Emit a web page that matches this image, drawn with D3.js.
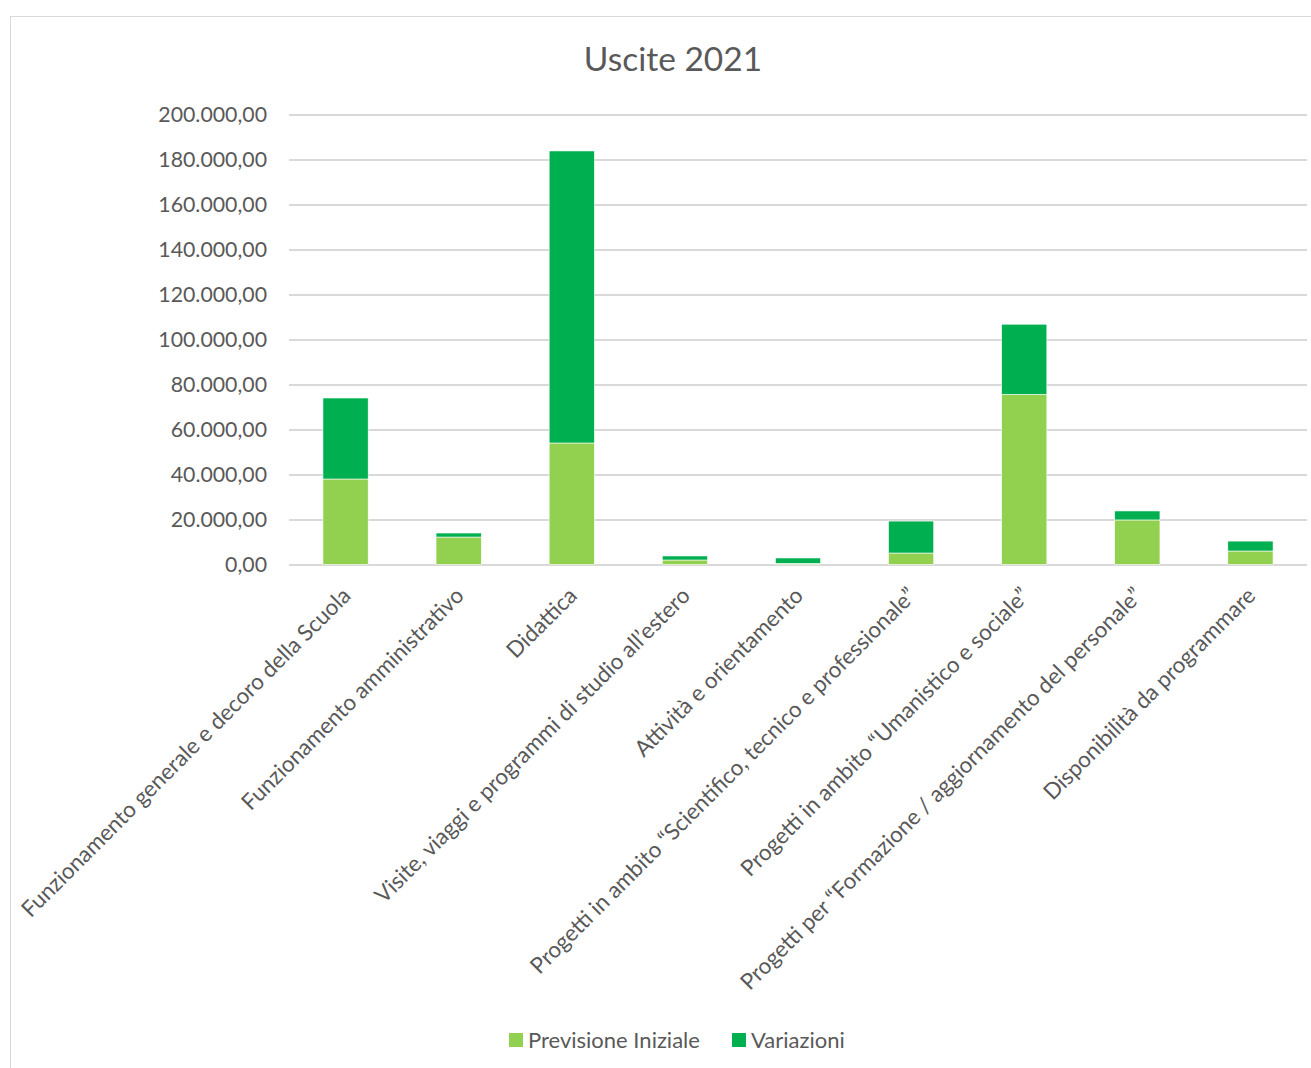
<!DOCTYPE html>
<html>
<head>
<meta charset="utf-8">
<script src="https://cdn.jsdelivr.net/npm/d3@7"></script>
<style>
  body { margin: 0; background: #fff; }
  text { font-family: Lato, "Open Sans", sans-serif; fill: #595959; }
</style>
</head>
<body>
<svg width="1311" height="1068"></svg>
<script>
const categories = [
  "Funzionamento generale e decoro della Scuola",
  "Funzionamento amministrativo",
  "Didattica",
  "Visite, viaggi e programmi di studio all\u2019estero",
  "Attività e orientamento",
  "Progetti in ambito \u201cScientifico, tecnico e professionale\u201d",
  "Progetti in ambito \u201cUmanistico e sociale\u201d",
  "Progetti per \u201cFormazione / aggiornamento del personale\u201d",
  "Disponibilità da programmare"
];
const previsioneIniziale = [38000, 12200, 54000, 2000, 500, 5100, 75600, 19800, 6000];
const variazioni = [36000, 1800, 129800, 1800, 2400, 14200, 31200, 4000, 4400];
const seriesNames = ["Previsione Iniziale", "Variazioni"];
const seriesColors = ["#92d050", "#00b050"];
const yTicks = [0, 20000, 40000, 60000, 80000, 100000, 120000, 140000, 160000, 180000, 200000];

const svg = d3.select("svg");

// chart frame
svg.append("rect")
  .attr("x", 10.5).attr("y", 16.5)
  .attr("width", 1320).attr("height", 1080)
  .attr("fill", "none").attr("stroke", "#d9d9d9");

const plotLeft = 289, plotRight = 1307, plotTop = 114.5, plotBottom = 564.5;

const x = d3.scaleBand().domain(categories).range([plotLeft, plotRight]).paddingInner(0.6).paddingOuter(0.3);
const y = d3.scaleLinear().domain([0, 200000]).range([plotBottom, plotTop]);

const fmt = v => d3.format(",.2f")(v).replace(/,/g, "#").replace(".", ",").replace(/#/g, ".");

// title
svg.append("text")
  .attr("x", 673).attr("y", 71)
  .attr("text-anchor", "middle")
  .style("font-size", "33.5px")
  .text("Uscite 2021");

// grid + y labels
const yAxis = svg.append("g")
  .attr("transform", `translate(${plotLeft},0)`)
  .call(d3.axisLeft(y).tickValues(yTicks).tickSize(-(plotRight - plotLeft)).tickFormat(fmt).tickPadding(22));
yAxis.select(".domain").remove();
yAxis.selectAll(".tick line").attr("stroke", "#d9d9d9").attr("stroke-width", 2);
yAxis.selectAll(".tick text").style("font-size", "21.3px").attr("fill", "#595959");

// stacked bars
const rows = categories.map((c, i) => ({ cat: c, prev: previsioneIniziale[i], vari: variazioni[i] }));
const stack = d3.stack().keys(["prev", "vari"])(rows);

svg.append("g").selectAll("g")
  .data(stack)
  .join("g")
  .attr("fill", (d, i) => seriesColors[i])
  .selectAll("rect")
  .data(d => d)
  .join("rect")
  .attr("x", d => x(d.data.cat))
  .attr("width", x.bandwidth())
  .attr("y", d => y(d[1]))
  .attr("height", d => y(d[0]) - y(d[1]))
  .attr("stroke", "#fff")
  .attr("stroke-width", 0.6);

// category labels
svg.append("g").selectAll("text")
  .data(categories)
  .join("text")
  .attr("transform", d => `translate(${x(d) + x.bandwidth() / 2 + 1},${plotBottom + 27}) rotate(-45)`)
  .attr("text-anchor", "end")
  .attr("dy", "0.35em")
  .style("font-size", "22.4px")
  .text(d => d);

// legend
const legend = svg.append("g");
const legendX = [509, 732];
seriesNames.forEach((name, i) => {
  legend.append("rect")
    .attr("x", legendX[i]).attr("y", 1033)
    .attr("width", 14).attr("height", 14)
    .attr("fill", seriesColors[i]);
  legend.append("text")
    .attr("x", legendX[i] + 19).attr("y", 1048)
    .style("font-size", "22px")
    .text(name);
});
</script>
</body>
</html>
